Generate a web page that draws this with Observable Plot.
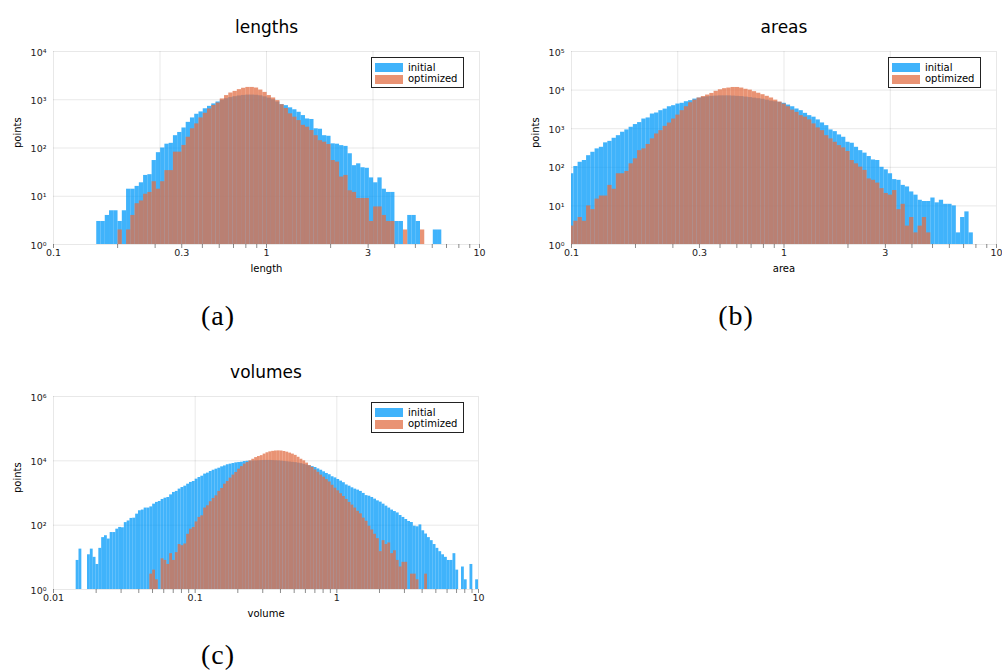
<!DOCTYPE html>
<html>
<head>
<meta charset="utf-8">
<script src="https://cdn.jsdelivr.net/npm/d3@7"></script>
<script src="https://cdn.jsdelivr.net/npm/@observablehq/plot@0.6"></script>
<style>
  html, body { margin: 0; padding: 0; background: #fff; }
  #root { position: relative; width: 1002px; height: 672px; overflow: hidden; font-family: "DejaVu Sans", sans-serif; }
  .panel { position: absolute; }
  .panel svg { overflow: visible; }
  .legend { position: absolute; width: 93px; height: 31px; border: 1px solid #222; background: #fff; box-sizing: border-box; font-size: 10px; color: #000; }
  .legend .sw { position: absolute; left: 3px; width: 28px; height: 9px; }
  .legend .lb { position: absolute; left: 36px; line-height: 10px; }
  .cap { position: absolute; width: 80px; text-align: center; font-family: "Liberation Serif", "DejaVu Serif", serif; font-size: 28px; letter-spacing: 1px; color: #000; line-height: 30px; }
</style>
</head>
<body>
<div id="root"></div>
<script>
// ---------------- data ----------------
const binWidth = 0.02;              // log10 width of every histogram bin
const seriesNames = ["initial", "optimized"];

// lengths: first bin starts at log10 = lengthsStart
const lengthsStart = -0.797;
const lengthsInitial = [3,3,4,5,5,3,5,14,14,16,19,27,28,55,80,100,120,125,180,210,
  260,340,420,500,560,650,730,820,900,980,1050,1110,1160,1200,1230,1250,1250,1240,1210,1150,
  1080,1000,900,790,755,680,620,550,470,400,390,250,245,180,175,122,120,112,108,76,
  43,47,39,38,24,19,24,14,12,12,3,3,1,4,4,3,1,0,0,2,2];
const lengthsOptimized = [0,0,0,0,0,2,0,2,4,7,8,11,12,20,14,20,34,34,82,82,
  113,167,250,316,420,525,645,760,855,1040,1220,1380,1490,1620,1730,1800,1800,1750,1590,1420,
  1220,1090,960,790,660,510,435,370,295,270,230,180,142,132,118,55,51,25,27,13,
  12,9,9,9,3,6,6,4,3,3,0,0,2,0,0,0,2,0,0,0,0];

// areas
const areasStart = -1.009;
const areasInitial = [68,105,135,150,200,245,300,330,430,470,565,660,810,930,1090,1280,1440,1780,1900,2400,
  2550,2930,3220,3700,3950,4350,4550,5000,5330,5850,6200,6500,6700,6900,7000,7100,7100,7100,7000,6900,
  6800,6600,6400,6200,6000,5800,5500,5200,5000,4800,4550,4100,3700,3240,2930,2500,2180,1990,1690,1410,
  1200,930,840,690,600,445,420,330,270,233,190,155,150,100,86,68,48,46,34,31,
  23,19,14,13,13,16,12,14,11,11,10,2,5,7,2];
const areasOptimized = [3,4,5,4,10,8,15,18,18,34,27,68,68,78,123,166,270,300,390,545,
  730,890,1150,1400,1780,2250,2930,3700,4700,5500,6250,6800,7450,8200,9300,10200,10900,11300,11700,11700,
  11300,10500,10000,9100,8300,7600,6900,6250,5500,4900,4350,3700,3030,2650,2180,1990,1690,1330,1050,890,
  660,545,445,365,318,257,150,123,101,83,50,46,39,28,21,19,25,8,11,3,
  5,2,3,5,2];

// volumes
const volumesStart = -1.84;
const volumesInitial = [8,18,0,0,12,18,10,6,19,41,47,37,59,59,75,85,83,120,135,162,
  165,220,280,295,340,340,370,450,510,545,630,690,725,875,1040,1120,1320,1480,1630,1880,
  2130,2280,2690,3030,3330,3870,4150,4660,5100,5500,5900,6500,6950,7550,7900,8250,8650,8850,9050,9500,
  9700,9800,9900,10000,10100,10200,10300,10300,10300,10200,10100,10000,9800,9600,9400,9200,9000,8800,8500,8200,
  7800,7400,7000,6600,6200,5600,5100,4550,4050,3700,3200,2950,2630,2340,2090,1780,1630,1450,1320,1230,
  1120,970,830,795,725,645,570,520,450,390,340,295,265,240,200,174,150,130,121,93,
  89,102,67,53,41,33,25,19,15,12,10,8,8,13,4,0,5,2,0,6,0,2];
const volumesOptimized = [0,0,0,0,0,0,0,0,0,0,0,0,0,0,0,0,0,0,0,0,
  0,0,0,0,0,0,3,4,2,0,9,8,6,13,8,14,25,23,26,52,
  75,85,126,174,195,340,400,535,675,815,1120,1380,1880,2280,2900,3600,4350,5500,6600,7900,
  8850,10000,11200,12600,13600,14500,16200,17800,19000,19700,20200,20400,20200,19500,18600,17400,16200,14800,12900,11200,
  10000,8500,7100,6200,5200,4400,3600,3100,2600,2200,1740,1410,1170,950,780,630,510,420,340,270,
  225,166,132,93,71,52,38,15,33,25,28,13,16,8,5,7,7,0,3,3,2,0,0,3];

// axis ticks
const lengthsXTickValues = [0.1, 0.4, 1, 3, 10];
const lengthsXTickLabels = ["0.1", "0.3", "1", "3", "10"];
const areasXTickValues = [0.1, 0.4, 1, 3, 10];
const areasXTickLabels = ["0.1", "0.3", "1", "3", "10"];
const volumesXTickValues = [0.01, 0.1, 1, 10];
const volumesXTickLabels = ["0.01", "0.1", "1", "10"];
const lengthsYPowers = [0, 1, 2, 3, 4];
const areasYPowers = [0, 1, 2, 3, 4, 5];
const volumesYPowers = [0, 2, 4, 6];
const halfDecadeGrid = [0.1, Math.pow(10, -0.5), 1, Math.pow(10, 0.5), 10];
const volumesGrid = [0.01, 0.1, 1, 10];

// ---------------- drawing ----------------
const COLORS = ["#009AFA", "#E26F46"];
const SUP = {0: "\u2070", 1: "\u00B9", 2: "\u00B2", 3: "\u00B3", 4: "\u2074", 5: "\u2075", 6: "\u2076"};

function bins(start, counts) {
  return counts.map((c, i) => ({
    x1: Math.pow(10, start + i * binWidth),
    x2: Math.pow(10, start + (i + 1) * binWidth),
    y1: 1,
    y2: c
  })).filter(d => d.y2 > 1);
}

function minorTicks(lo, hi) {
  const out = [];
  for (let p = lo; p < hi; p++) for (let m = 1; m < 10; m++) out.push(m * Math.pow(10, p));
  out.push(Math.pow(10, hi));
  return out;
}

function panel(o) {
  const frameH = o.height - o.marginTop - o.marginBottom;
  return Plot.plot({
    width: o.width, height: o.height,
    marginLeft: o.marginLeft, marginRight: o.marginRight,
    marginTop: o.marginTop, marginBottom: o.marginBottom,
    x: {type: "log", domain: o.xDomain, axis: null},
    y: {type: "log", domain: o.yDomain, axis: null},
    style: {fontFamily: "DejaVu Sans, sans-serif", fontSize: "10px", color: "#000", background: "transparent", overflow: "visible"},
    marks: [
      Plot.ruleX(o.xGrid, {stroke: "#000", strokeOpacity: 0.09}),
      Plot.ruleY(o.yPowers.map(p => Math.pow(10, p)), {stroke: "#000", strokeOpacity: 0.09}),
      Plot.rect(bins(o.start, o.initial), {x1: "x1", x2: "x2", y1: "y1", y2: "y2", fill: COLORS[0], fillOpacity: 0.75, clip: true}),
      Plot.rect(bins(o.start, o.optimized), {x1: "x1", x2: "x2", y1: "y1", y2: "y2", fill: COLORS[1], fillOpacity: 0.75, clip: true}),
      Plot.ruleX(o.minor, {insetTop: frameH, insetBottom: -4, stroke: "#000", strokeOpacity: 0.45}),
      Plot.text(o.xTickValues, {x: d => d, text: (d, i) => o.xTickLabels[i], frameAnchor: "bottom", dy: 11, fontSize: 9.5, fill: "#222"}),
      Plot.text(o.yPowers, {y: p => Math.pow(10, p), text: p => "10" + SUP[p], frameAnchor: "left", textAnchor: "end", dx: -7, dy: 1, fontSize: 9.5, fill: "#222"}),
      Plot.text([o.title], {frameAnchor: "top", dy: -31, fontSize: 17}),
      Plot.text([o.xLabel], {frameAnchor: "bottom", dy: 27, fontSize: 10}),
      Plot.text(["points"], {frameAnchor: "left", dx: -36, rotate: -90, fontSize: 10})
    ]
  });
}

const root = document.getElementById("root");

function place(node, left, top) {
  const d = document.createElement("div");
  d.className = "panel";
  d.style.left = left + "px";
  d.style.top = top + "px";
  d.appendChild(node);
  root.appendChild(d);
}

function legend(left, top) {
  const d = document.createElement("div");
  d.className = "legend";
  d.style.left = left + "px";
  d.style.top = top + "px";
  seriesNames.forEach((name, i) => {
    const sw = document.createElement("div");
    sw.className = "sw";
    sw.style.top = (5 + i * 11.5) + "px";
    sw.style.background = COLORS[i];
    sw.style.opacity = 0.75;
    d.appendChild(sw);
    const lb = document.createElement("div");
    lb.className = "lb";
    lb.style.top = (4.5 + i * 11.5) + "px";
    lb.textContent = name;
    d.appendChild(lb);
  });
  root.appendChild(d);
}

function caption(text, cx, cy) {
  const d = document.createElement("div");
  d.className = "cap";
  d.style.left = (cx - 40) + "px";
  d.style.top = (cy - 15) + "px";
  d.textContent = text;
  root.appendChild(d);
}

place(panel({
  width: 500, height: 285, marginLeft: 53, marginRight: 21, marginTop: 51, marginBottom: 41,
  xDomain: [0.1, 10], yDomain: [1, 1e4],
  start: lengthsStart, initial: lengthsInitial, optimized: lengthsOptimized,
  xGrid: halfDecadeGrid, yPowers: lengthsYPowers, minor: minorTicks(-1, 1),
  xTickValues: lengthsXTickValues, xTickLabels: lengthsXTickLabels,
  title: "lengths", xLabel: "length"
}), 0, 0);

place(panel({
  width: 502, height: 285, marginLeft: 71, marginRight: 6, marginTop: 51, marginBottom: 41,
  xDomain: [0.1, 10], yDomain: [1, 1e5],
  start: areasStart, initial: areasInitial, optimized: areasOptimized,
  xGrid: halfDecadeGrid, yPowers: areasYPowers, minor: minorTicks(-1, 1),
  xTickValues: areasXTickValues, xTickLabels: areasXTickLabels,
  title: "areas", xLabel: "area"
}), 500, 0);

place(panel({
  width: 500, height: 290, marginLeft: 53, marginRight: 22, marginTop: 56, marginBottom: 41,
  xDomain: [0.01, 10], yDomain: [1, 1e6],
  start: volumesStart, initial: volumesInitial, optimized: volumesOptimized,
  xGrid: volumesGrid, yPowers: volumesYPowers, minor: minorTicks(-2, 1),
  xTickValues: volumesXTickValues, xTickLabels: volumesXTickLabels,
  title: "volumes", xLabel: "volume"
}), 0, 340);

legend(371, 57);
legend(888, 57);
legend(371, 402);

caption("(a)", 218, 316);
caption("(b)", 736, 316);
caption("(c)", 218, 655);
</script>
</body>
</html>
